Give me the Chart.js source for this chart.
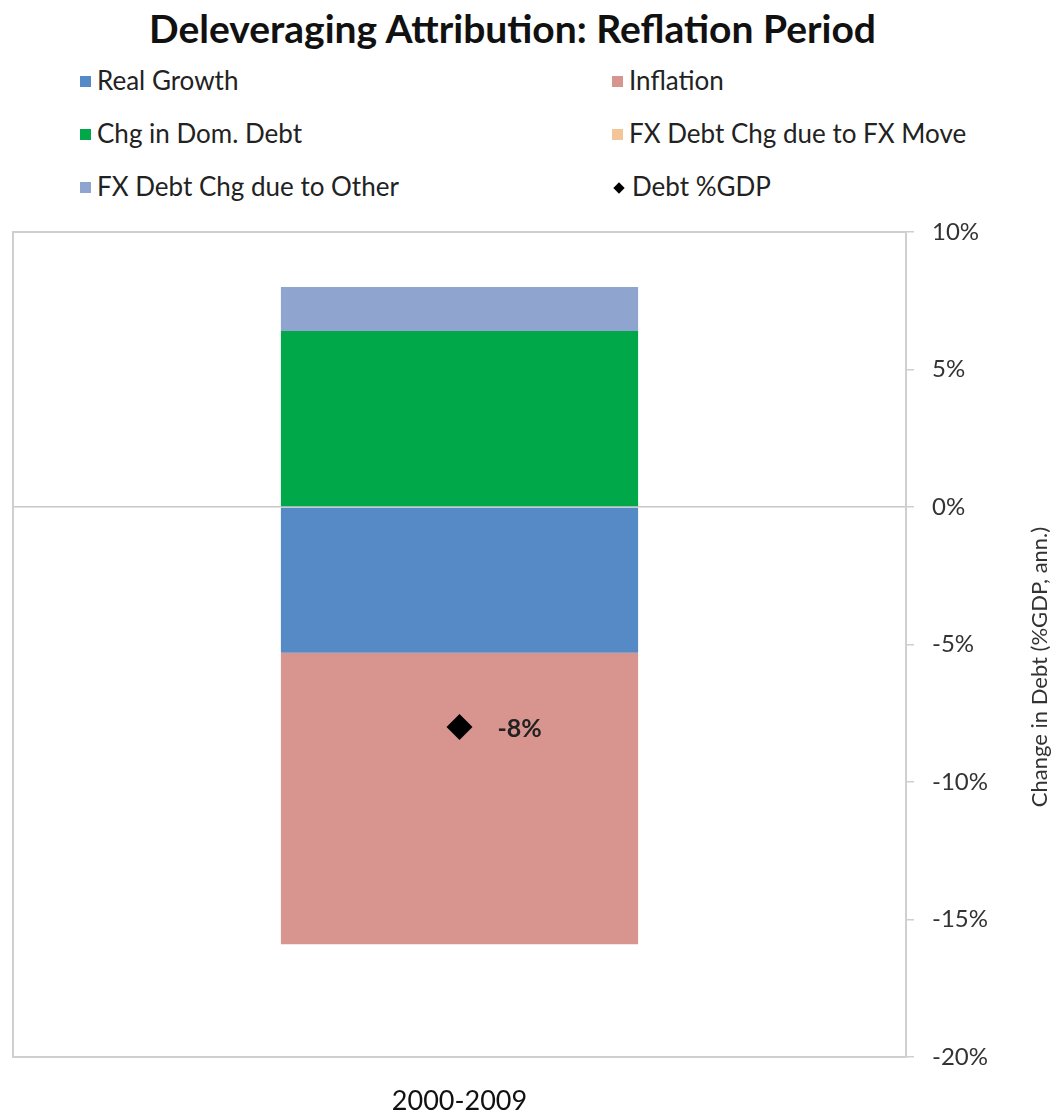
<!DOCTYPE html>
<html>
<head>
<meta charset="utf-8">
<script src="https://cdn.jsdelivr.net/npm/chart.js@4.4.1/dist/chart.umd.min.js"></script>
<style>
  html, body { margin: 0; padding: 0; background: #fff; }
  #wrap { position: relative; width: 1055px; height: 1113px; font-family: Lato, "Open Sans", sans-serif; }
  #title { position: absolute; left: 0; top: 5px; width: 1025px; text-align: center; font-weight: bold; font-size: 39px; color: #111; }
  #legend { position: absolute; left: 80px; top: 64px; width: 960px; }
  .item { position: absolute; font-size: 26px; color: #222; white-space: nowrap; }
  .box { display: inline-block; width: 11px; height: 11px; margin-right: 6px; vertical-align: 3px; }
  .dia { display: inline-block; width: 8px; height: 8px; margin: 0 9px 0 3px; vertical-align: 4px; background: #000; transform: rotate(45deg); }
  canvas { position: absolute; left: 0; top: 0; }
</style>
</head>
<body>
<div id="wrap">
  <div id="title">Deleveraging Attribution: Reflation Period</div>
  <div id="legend"></div>
  <canvas id="chart" width="1055" height="1113"></canvas>
</div>
<script>
//-----------------------------------------------------
// Data
//-----------------------------------------------------
const periods = ['2000-2009'];
const realGrowth = [-5.3];
const inflation = [-10.6];
const domDebtChg = [6.4];
const fxMoveChg = [0];
const fxOtherChg = [1.6];
const debtGdp = [-8];
const yTicks = [10, 5, 0, -5, -10, -15, -20];
const yTitle = 'Change in Debt (%GDP, ann.)';

const series = [
    { label: 'Real Growth', data: realGrowth, color: '#568ac6' },
    { label: 'Inflation', data: inflation, color: '#d8958f' },
    { label: 'Chg in Dom. Debt', data: domDebtChg, color: '#00a84a' },
    { label: 'FX Debt Chg due to FX Move', data: fxMoveChg, color: '#f5c59a' },
    { label: 'FX Debt Chg due to Other', data: fxOtherChg, color: '#8fa5cf' }
];

const datasets = series.map(s => ({
    type: 'bar',
    label: s.label,
    data: s.data,
    backgroundColor: s.color,
    stack: 'attr',
    categoryPercentage: 1.0,
    barPercentage: 0.4,
    order: 2
}));

datasets.push({
    type: 'line',
    label: 'Debt %GDP',
    data: debtGdp,
    stack: 'debt',
    showLine: false,
    pointStyle: 'rectRot',
    pointRadius: 13,
    pointHoverRadius: 13,
    backgroundColor: '#000',
    borderColor: '#000',
    borderWidth: 0,
    order: 1
});

// HTML legend in two columns, like the original
const legendEl = document.getElementById('legend');
const legendCols = [0, 532];
datasets.forEach((d, i) => {
    const el = document.createElement('div');
    el.className = 'item';
    el.style.left = legendCols[i % 2] + 'px';
    el.style.top = (Math.floor(i / 2) * 53) + 'px';
    const mark = document.createElement('span');
    if (d.type === 'line') {
        mark.className = 'dia';
    } else {
        mark.className = 'box';
        mark.style.background = d.backgroundColor;
    }
    el.appendChild(mark);
    el.appendChild(document.createTextNode(d.label));
    legendEl.appendChild(el);
});

// plot frame, value label next to the diamond, axis title reading upwards
const framePlugin = {
    id: 'frame',
    afterDatasetsDraw(chart) {
        const ctx = chart.ctx;
        const a = chart.chartArea;
        ctx.save();
        ctx.strokeStyle = '#cfcfcf';
        ctx.lineWidth = 2;
        ctx.strokeRect(a.left, a.top, a.right - a.left, a.bottom - a.top);

        const meta = chart.getDatasetMeta(datasets.length - 1);
        meta.data.forEach((pt, i) => {
            ctx.fillStyle = '#222';
            ctx.font = 'bold 25px Lato, sans-serif';
            ctx.textBaseline = 'middle';
            ctx.textAlign = 'left';
            ctx.fillText(debtGdp[i] + '%', pt.x + 38, pt.y + 2);
        });

        ctx.translate(1040, 667);
        ctx.rotate(-Math.PI / 2);
        ctx.fillStyle = '#333';
        ctx.font = '22px Lato, sans-serif';
        ctx.textAlign = 'center';
        ctx.textBaseline = 'middle';
        ctx.fillText(yTitle, 0, 0);
        ctx.restore();
    }
};

new Chart(document.getElementById('chart'), {
    data: { labels: periods, datasets: datasets },
    options: {
        responsive: false,
        animation: false,
        layout: { padding: { top: 232, left: 11, right: 0, bottom: 0 } },
        plugins: {
            legend: { display: false },
            tooltip: { enabled: false }
        },
        scales: {
            x: {
                stacked: true,
                grid: { display: false },
                border: { display: false },
                ticks: { color: '#111', font: { family: 'Lato', size: 27 }, padding: 20 },
                afterFit(scale) { scale.height = 56; }
            },
            y: {
                position: 'right',
                stacked: true,
                min: -20,
                max: 10,
                afterBuildTicks(scale) { scale.ticks = yTicks.map(v => ({ value: v })); },
                ticks: {
                    color: '#333',
                    font: { family: 'Lato', size: 24 },
                    padding: 18,
                    callback: v => v + '%'
                },
                grid: {
                    color: c => (c.tick && c.tick.value === 0) ? '#c8c8c8' : 'rgba(0,0,0,0)',
                    tickColor: '#cfcfcf',
                    tickLength: 8,
                    lineWidth: 1.5
                },
                border: { display: false },
                afterFit(scale) { scale.width = 149; }
            }
        }
    },
    plugins: [framePlugin]
});
</script>
</body>
</html>
